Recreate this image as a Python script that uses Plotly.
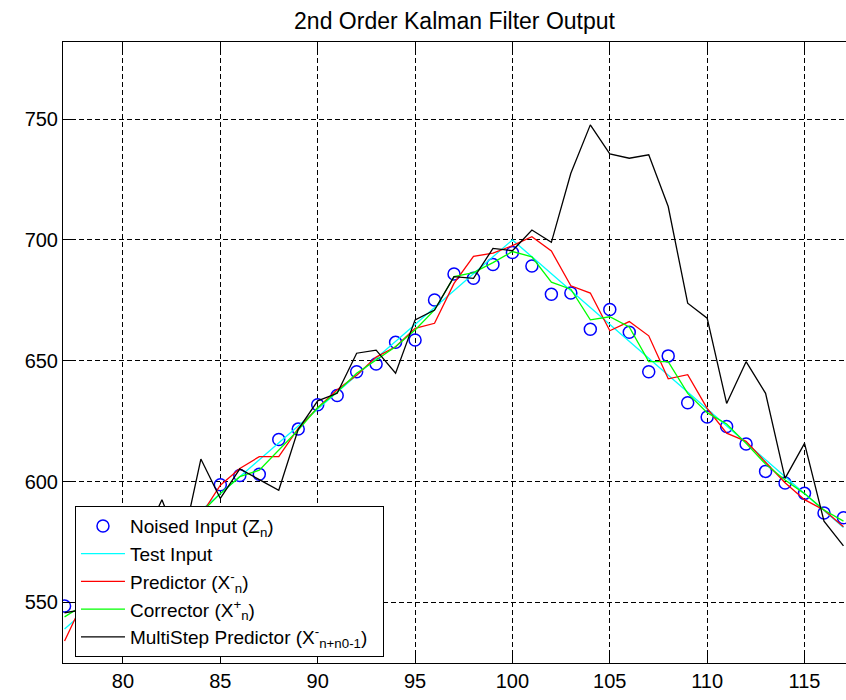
import plotly.graph_objects as go

x_vals = [77, 78, 79, 80, 81, 82, 83, 84, 85, 86, 87, 88, 89, 90, 91, 92, 93, 94, 95, 96, 97,
          98, 99, 100, 101, 102, 103, 104, 105, 106, 107, 108, 109, 110, 111, 112, 113, 114,
          115, 116, 117]

noised_input = [548.5, 551, 556, 561, 567, 574, 579, 585, 598.7, 602.5, 603, 617.4, 621.7,
                631.8, 635.6, 645.4, 648.6, 657.6, 658.6, 675.1, 685.9, 684.1, 689.8, 694.8,
                689.2, 677.5, 678, 663, 671.2, 661.8, 645.4, 652, 632.6, 626.7, 622.8, 615.5,
                604.2, 599.4, 595.1, 587, 585]

test_input = [539, 546, 553, 560, 567, 574, 581, 588, 595, 602, 609, 616, 623, 630, 637, 644,
              651, 658, 665, 672, 679, 686, 693, 700, 693, 686, 679, 672, 665, 658, 651, 644,
              637, 630, 623, 616, 609, 602, 595, 588, 581]

predictor = [534, 551, 556, 562, 567, 574, 579, 586, 598.5, 605.4, 610.3, 610.3, 622, 630.5,
             638, 644, 651.5, 655.8, 663.4, 665.5, 682, 693.2, 694.5, 697.6, 701.3, 695.4, 681,
             678, 662.4, 666.2, 660.3, 642.5, 644.2, 630.3, 620, 616.6, 608, 599.5, 592.5,
             588.2, 581.3]

corrector = [544, 549, 555, 561, 567, 573, 580, 587, 595, 602, 604.7, 613, 621.3, 630.6, 637,
             644.8, 650.3, 655.8, 662.7, 671, 684.8, 686.5, 690.6, 695.2, 693, 682.5, 679.6,
             666.9, 668.2, 664, 649.6, 649.6, 636.5, 628.5, 623.8, 615.8, 607.2, 600.6, 595,
             588.2, 583.6]

multistep = [545.7, 547, 560, 566, 575, 592.5, 572, 609.3, 593, 605.2, 600.8, 596.4, 621.6,
             633.4, 636.5, 653.1, 654.4, 644.8, 666.9, 671, 684.8, 684.1, 696.5, 695.5, 704.1,
             699, 727.6, 747.6, 735.6, 733.8, 735.2, 713.8, 673.8, 667.6, 632.3, 649.6, 636.5,
             601.3, 615.8, 583.6, 573.4]

x_ticks = [80, 85, 90, 95, 100, 105, 110, 115]
y_ticks = [550, 600, 650, 700, 750]

FONT = "Arial, Liberation Sans, sans-serif"

fig = go.Figure()
fig.add_trace(go.Scatter(x=x_vals, y=noised_input, mode="markers",
                         name="Noised Input (Z<sub>n</sub>)",
                         marker=dict(symbol="circle-open", size=12, color="#0000FF",
                                     line=dict(width=1.5, color="#0000FF"))))
fig.add_trace(go.Scatter(x=x_vals, y=test_input, mode="lines", name="Test Input",
                         line=dict(color="#00FFFF", width=1.3)))
fig.add_trace(go.Scatter(x=x_vals, y=predictor, mode="lines",
                         name="Predictor (X<sup>-</sup><sub>n</sub>)",
                         line=dict(color="#FF0000", width=1.3)))
fig.add_trace(go.Scatter(x=x_vals, y=corrector, mode="lines",
                         name="Corrector (X<sup>+</sup><sub>n</sub>)",
                         line=dict(color="#00FF00", width=1.3)))
fig.add_trace(go.Scatter(x=x_vals, y=multistep, mode="lines",
                         name="MultiStep Predictor (X<sup>-</sup><sub>n+n0-1</sub>)&nbsp;&nbsp;",
                         line=dict(color="#000000", width=1.3)))

fig.update_layout(
    width=846, height=700,
    margin=dict(l=63, r=0, t=42, b=37),
    paper_bgcolor="white", plot_bgcolor="white",
    font=dict(family=FONT, size=20, color="black"),
    title=dict(text="2nd Order Kalman Filter Output", x=0.5, xref="paper",
               y=1 - 21 / 700, yref="container", xanchor="center", yanchor="middle",
               font=dict(family=FONT, size=23, color="black")),
    showlegend=True,
    legend=dict(x=0.0153, y=0.2526, xanchor="left", yanchor="top",
                bgcolor="white", bordercolor="black", borderwidth=1,
                font=dict(family=FONT, size=19, color="black"),
                tracegroupgap=0, itemwidth=44),
)

fig.update_xaxes(range=[76.92, 117.13], tickvals=x_ticks, ticks="inside", ticklen=8,
                 tickcolor="black", tickwidth=1, showline=True, linecolor="black",
                 linewidth=1, mirror="ticks", showgrid=True, gridcolor="black",
                 gridwidth=1, griddash="5px,3px", zeroline=False,
                 tickfont=dict(family=FONT, size=20, color="black"))
fig.update_yaxes(range=[524.9, 781.9], tickvals=y_ticks, ticks="inside", ticklen=8,
                 tickcolor="black", tickwidth=1, showline=True, linecolor="black",
                 linewidth=1, mirror=False, showgrid=True, gridcolor="black",
                 gridwidth=1, griddash="5px,3px", zeroline=False,
                 tickfont=dict(family=FONT, size=20, color="black"))

fig.write_html("out.html", config={"displayModeBar": False},
               post_script="document.body.style.margin='0';")
